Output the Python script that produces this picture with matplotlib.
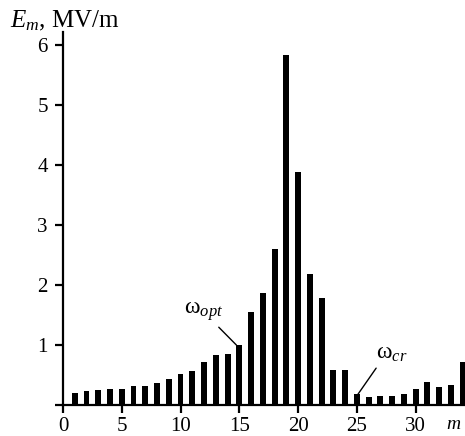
import matplotlib
matplotlib.use("Agg")
import matplotlib.pyplot as plt

plt.rcParams['font.family'] = ['Liberation Serif', 'DejaVu Serif']
plt.rcParams['mathtext.fontset'] = 'custom'
plt.rcParams['mathtext.rm'] = 'Liberation Serif'
plt.rcParams['mathtext.it'] = 'Liberation Serif:italic'

m = list(range(1, 35))
E = [0.20, 0.23, 0.245, 0.27, 0.26, 0.32, 0.31, 0.37, 0.43, 0.51,
     0.57, 0.72, 0.84, 0.845, 1.00, 1.55, 1.87, 2.60, 5.84, 3.89,
     2.19, 1.79, 0.58, 0.58, 0.19, 0.13, 0.145, 0.155, 0.18, 0.27,
     0.38, 0.30, 0.33, 0.71]
xticks = [0, 5, 10, 15, 20, 25, 30]
yticks = [1, 2, 3, 4, 5, 6]

fig = plt.figure(figsize=(4.65, 4.36), dpi=100)
ax = fig.add_axes([0.1355, 0.0711, 0.8645, 0.8555])
ax.bar(m, E, width=0.5, color='black')
ax.set_xlim(0, 34.2)
ax.set_ylim(0, 6.22)
ax.set_xticks(xticks)
ax.set_yticks([0] + yticks)
ax.set_yticklabels([''] + [str(v) for v in yticks])
for s in ['top', 'right']:
    ax.spines[s].set_visible(False)
for s in ['left', 'bottom']:
    ax.spines[s].set_linewidth(1.6)
ax.tick_params(direction='out', length=6, width=1.6)
ax.tick_params(axis='x', labelsize=15, pad=2.5)
ax.tick_params(axis='y', labelsize=15, pad=5)

fig.text(0.022, 0.953, r'$E_m$, MV/m', fontsize=18, ha='left', va='center')
fig.text(0.974, 0.027, 'm', fontsize=14, style='italic', ha='center', va='center')

ax.annotate(r'$\mathrm{\omega}_{opt}$', xy=(14.75, 1.0), xytext=(12.0, 1.36),
            fontsize=17, ha='center', va='bottom',
            arrowprops=dict(arrowstyle='-', color='black', lw=1,
                            shrinkA=1, shrinkB=0, relpos=(0.78, 0.0)))
ax.annotate(r'$\mathrm{\omega}_{cr}$', xy=(25.06, 0.17), xytext=(28.0, 0.68),
            fontsize=17, ha='center', va='bottom',
            arrowprops=dict(arrowstyle='-', color='black', lw=1,
                            shrinkA=1, shrinkB=0, relpos=(0.08, 0.0)))

fig.savefig('out.png', dpi=100)
